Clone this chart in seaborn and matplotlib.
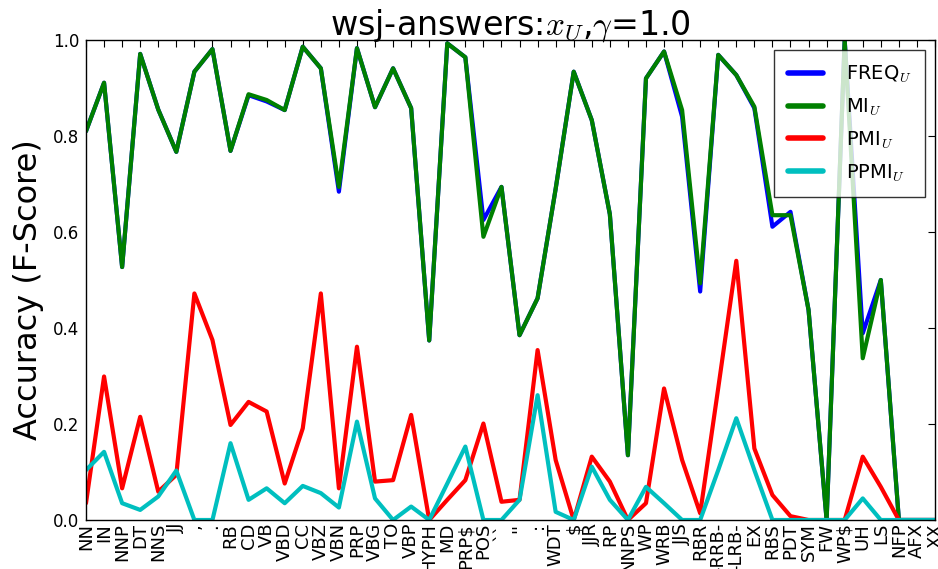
import matplotlib
matplotlib.use("Agg")
import matplotlib.pyplot as plt
import seaborn as sns
import numpy as np

tags = ["NN", "IN", "NNP", "DT", "NNS", "JJ", ",", ".", "RB", "CD", "VB", "VBD",
        "CC", "VBZ", "VBN", "PRP", "VBG", "TO", "VBP", "HYPH", "MD", "PRP$", "POS",
        "``", "''", ":", "WDT", "$", "JJR", "RP", "NNPS", "WP", "WRB", "JJS", "RBR",
        "-RRB-", "-LRB-", "EX", "RBS", "PDT", "SYM", "FW", "WP$", "UH", "LS", "NFP",
        "AFX", "XX"]

freq = [0.81, 0.911, 0.527, 0.971, 0.855, 0.767, 0.934, 0.981, 0.769, 0.885, 0.872, 0.854,
        0.986, 0.941, 0.684, 0.983, 0.86, 0.941, 0.858, 0.374, 0.993, 0.964, 0.625,
        0.694, 0.385, 0.462, 0.69, 0.934, 0.833, 0.637, 0.135, 0.92, 0.976, 0.84, 0.476,
        0.969, 0.927, 0.858, 0.611, 0.642, 0.4375, 0.0, 1.0, 0.389, 0.5, 0.0,
        0.0, 0.0]
mi = [0.81, 0.911, 0.527, 0.971, 0.855, 0.767, 0.934, 0.981, 0.769, 0.887, 0.875, 0.854,
      0.986, 0.941, 0.694, 0.983, 0.86, 0.941, 0.858, 0.374, 0.993, 0.964, 0.59,
      0.694, 0.385, 0.462, 0.69, 0.934, 0.833, 0.637, 0.135, 0.92, 0.976, 0.854, 0.493,
      0.969, 0.927, 0.861, 0.635, 0.635, 0.4375, 0.0, 1.0, 0.337, 0.5, 0.0,
      0.0, 0.0]
pmi = [0.035, 0.299, 0.066, 0.215, 0.059, 0.094, 0.472, 0.375, 0.198, 0.246, 0.226, 0.076,
       0.191, 0.472, 0.066, 0.361, 0.08, 0.083, 0.219, 0.0, 0.042, 0.083, 0.201,
       0.038, 0.042, 0.354, 0.125, 0.0, 0.132, 0.08, 0.0, 0.035, 0.274, 0.125, 0.014,
       0.275, 0.54, 0.149, 0.052, 0.008, 0.0, 0.0, 0.0, 0.132, 0.069, 0.0,
       0.0, 0.0]
ppmi = [0.104, 0.142, 0.035, 0.021, 0.049, 0.103, 0.0, 0.0, 0.16, 0.042, 0.066, 0.035,
        0.071, 0.056, 0.026, 0.205, 0.045, 0.0, 0.028, 0.0, 0.076, 0.153, 0.0,
        0.0, 0.042, 0.26, 0.017, 0.0, 0.111, 0.042, 0.0, 0.069, 0.035, 0.0, 0.0,
        0.104, 0.212, 0.104, 0.0, 0.0, 0.0, 0.0, 0.0, 0.045, 0.0, 0.0,
        0.0, 0.0]

series_labels = [r"FREQ$_U$", r"MI$_U$", r"PMI$_U$", r"PPMI$_U$"]
series_colors = ["#0000ff", "#008000", "#ff0000", "#00bfbf"]

sns.set_theme(style="white")
plt.rcParams["font.family"] = ["DejaVu Sans"]
plt.rcParams["mathtext.fontset"] = "cm"
plt.rcParams["text.color"] = "black"
plt.rcParams["axes.labelcolor"] = "black"
plt.rcParams["xtick.color"] = "black"
plt.rcParams["ytick.color"] = "black"

fig = plt.figure(figsize=(9.38, 5.69), dpi=100)
ax = fig.add_axes([86 / 938, 1 - 520 / 569, (935 - 86) / 938, (520 - 40) / 569])

x = np.arange(len(tags))
for vals, lab, col in zip([freq, mi, pmi, ppmi], series_labels, series_colors):
    sns.lineplot(x=x, y=vals, ax=ax, color=col, linewidth=3.0, label=lab)

ax.set_xlim(0, len(tags) - 1)
ax.set_ylim(0, 1.0)
ax.set_xticks(x)
ax.set_xticklabels(tags, rotation=90, fontsize=13)
ax.set_yticks([0.0, 0.2, 0.4, 0.6, 0.8, 1.0])
ax.set_yticklabels(["0.0", "0.2", "0.4", "0.6", "0.8", "1.0"], fontsize=12)
ax.tick_params(direction="in", top=True, right=True, length=5, width=0.8,
               color="black")
ax.tick_params(axis="x", pad=2)
ax.tick_params(axis="y", pad=5)
for s in ax.spines.values():
    s.set_color("black")
    s.set_linewidth(1.0)

ax.set_ylabel("Accuracy (F-Score)", fontsize=23)
ax.yaxis.set_label_coords(-0.049, 0.48)
ax.set_title(r"wsj-answers:$x_U$,$\gamma$=1.0", fontsize=24, pad=4)

leg = ax.legend(loc="upper right", fontsize=14, frameon=True, fancybox=False,
                handlelength=1.8, handletextpad=1.2, labelspacing=0.6,
                borderpad=0.7)
leg.get_frame().set_edgecolor("black")
leg.get_frame().set_linewidth(1.0)
for h in leg.get_lines():
    h.set_linewidth(4.0)

fig.savefig("out.png", dpi=100)
